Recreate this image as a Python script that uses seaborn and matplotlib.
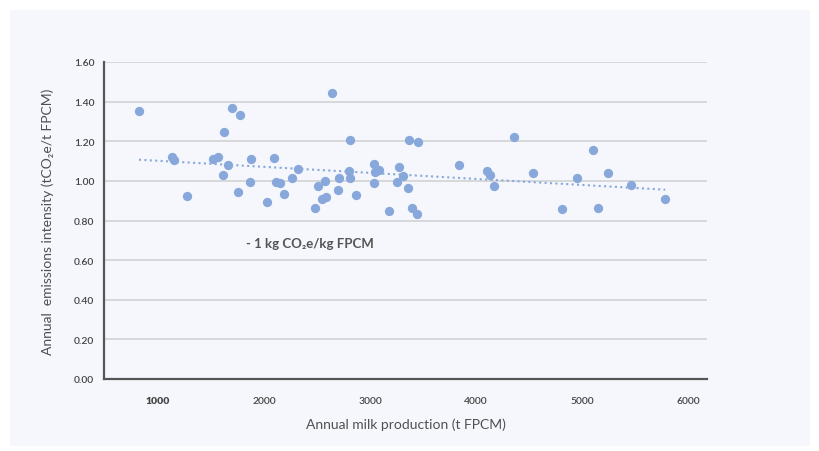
import numpy as np
import pandas as pd
import matplotlib
matplotlib.use("Agg")
import matplotlib.pyplot as plt
import seaborn as sns
from matplotlib.patches import Rectangle

# Data
milk_production = [820, 2644, 1701, 1771, 1623, 2811, 3371, 3456, 1132, 1151,
                   1516, 1563, 1663, 1613, 1877, 2092, 2321, 2261, 1868, 2110,
                   2148, 1752, 1271, 2192, 2028, 2509, 2575, 2705, 2802, 2811,
                   2695, 2871, 2544, 2588, 2481, 3038, 3047, 3088, 3038, 3274,
                   3311, 3252, 3361, 3176, 3399, 3446, 4356, 5101, 3842, 4107,
                   4129, 4170, 4541, 5248, 4953, 5462, 5786, 4814, 5148]
emissions_intensity = [1.352, 1.446, 1.369, 1.332, 1.249, 1.207, 1.207, 1.195, 1.118, 1.103,
                       1.108, 1.123, 1.079, 1.032, 1.111, 1.116, 1.059, 1.017, 0.995, 0.995,
                       0.988, 0.943, 0.926, 0.933, 0.895, 0.975, 1.000, 1.012, 1.049, 1.017,
                       0.953, 0.928, 0.909, 0.921, 0.864, 1.084, 1.047, 1.054, 0.990, 1.069,
                       1.027, 0.995, 0.965, 0.848, 0.864, 0.833, 1.222, 1.158, 1.081, 1.049,
                       1.032, 0.975, 1.039, 1.042, 1.012, 0.980, 0.906, 0.859, 0.865]
x_ticks = [1000, 2000, 3000, 4000, 5000, 6000]
y_ticks = [0.0, 0.2, 0.4, 0.6, 0.8, 1.0, 1.2, 1.4, 1.6]

df = pd.DataFrame({"milk": milk_production, "intensity": emissions_intensity})

sns.set_theme(style="white")
plt.rcParams['font.family'] = ['Lato', 'DejaVu Sans']

point_color = "#88a8dc"
text_color = "#505050"
panel_color = "#f5f7fc"

fig = plt.figure(figsize=(8.19, 4.52), dpi=100)
fig.patch.set_facecolor("white")
fig.patches.append(Rectangle((10 / 819, 1 - 447 / 452), 800 / 819, 436 / 452,
                             transform=fig.transFigure, facecolor=panel_color,
                             edgecolor="none", zorder=-10))

ax = fig.add_axes([104 / 819, 1 - 380 / 452, 603 / 819, 317 / 452])
ax.set_facecolor(panel_color)

sns.regplot(data=df, x="milk", y="intensity", ax=ax, ci=None, truncate=True,
            scatter_kws={"s": 45, "color": point_color, "alpha": 1, "linewidths": 0, "zorder": 3},
            line_kws={"color": point_color, "linestyle": (0, (1, 1.6)), "linewidth": 1.5, "zorder": 2})

ax.set_xlim(490, 6180)
ax.set_ylim(0, 1.6)
ax.set_xticks(x_ticks)
ax.set_yticks(y_ticks)
ax.set_xticklabels([str(t) for t in x_ticks])
ax.set_yticklabels([f"{t:.2f}" for t in y_ticks])

ax.yaxis.grid(True, color="#cfcfcf", linewidth=1.1)
ax.xaxis.grid(False)
ax.set_axisbelow(True)

for side in ["top", "right"]:
    ax.spines[side].set_visible(False)
for side in ["left", "bottom"]:
    ax.spines[side].set_color("#555555")
    ax.spines[side].set_linewidth(1.6)

ax.tick_params(axis="both", which="both", length=4, width=1, color="#555555",
               labelsize=7.5, labelcolor="#444444", pad=3)
ax.tick_params(axis="x", pad=8)
for lbl in ax.get_xticklabels() + ax.get_yticklabels():
    lbl.set_fontweight("semibold")
ax.xaxis.get_ticklabels()[0].set_fontweight("heavy")

ax.set_xlabel("Annual milk production (t FPCM)", fontsize=10, color=text_color, labelpad=9)
ax.set_ylabel("Annual  emissions intensity (tCO₂e/t FPCM)", fontsize=10, color=text_color, labelpad=14)

ax.text(2430, 0.687, "- 1 kg CO₂e/kg FPCM", fontsize=9.5, fontweight="bold",
        color="#555555", ha="center", va="center")

fig.savefig("out.png", dpi=100, facecolor=fig.get_facecolor())
